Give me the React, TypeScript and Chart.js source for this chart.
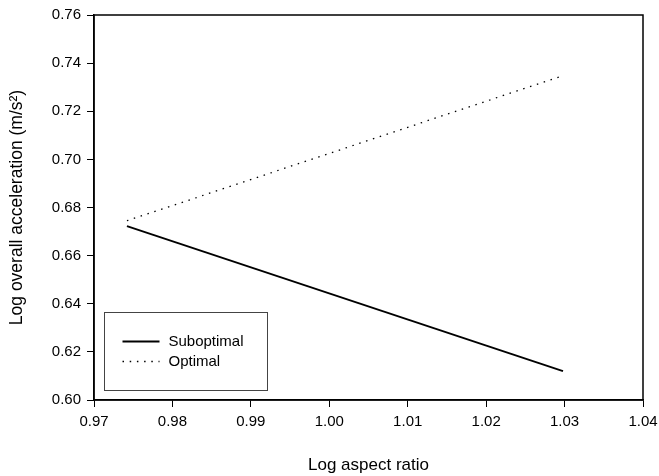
import React, { useEffect, useRef } from "react";
import { Chart, registerables } from "chart.js";

Chart.register(...registerables);

const seriesLabels = ["Suboptimal", "Optimal"];
const suboptimalX = [0.9742, 1.0298];
const suboptimalY = [0.6723, 0.612];
const optimalX = [0.9742, 1.0298];
const optimalY = [0.6745, 0.7348];
const xTitle = "Log aspect ratio";
const yTitle = "Log overall acceleration (m/s²)";
const xMin = 0.97, xMax = 1.04, xStep = 0.01;
const yMin = 0.6, yMax = 0.76, yStep = 0.02;

const FONT = "'Liberation Sans', Arial, sans-serif";

const framePlugin = {
  id: "frameAndLegend",
  afterDraw(chart: any) {
    const { ctx, chartArea: ca } = chart;
    ctx.save();
    ctx.strokeStyle = "#000";
    ctx.lineWidth = 1.5;
    ctx.strokeRect(ca.left, ca.top, ca.right - ca.left, ca.bottom - ca.top);
    // legend
    const bx = ca.left + 10.5;
    const by = ca.bottom - 87.5;
    const bw = 163;
    const bh = 78;
    ctx.lineWidth = 1;
    ctx.strokeStyle = "#444";
    ctx.fillStyle = "#fff";
    ctx.fillRect(bx, by, bw, bh);
    ctx.strokeRect(bx, by, bw, bh);
    chart.data.datasets.forEach((ds: any, i: number) => {
      const y = by + 29 + i * 20;
      ctx.beginPath();
      ctx.strokeStyle = ds.borderColor;
      ctx.lineWidth = ds.borderWidth;
      ctx.setLineDash(ds.borderDash || []);
      ctx.moveTo(bx + 18, y);
      ctx.lineTo(bx + 55, y);
      ctx.stroke();
      ctx.setLineDash([]);
      ctx.fillStyle = "#000";
      ctx.font = `15px ${FONT}`;
      ctx.textBaseline = "middle";
      ctx.textAlign = "left";
      ctx.fillText(ds.label, bx + 64, y);
    });
    ctx.restore();
  },
};

export default function App() {
  const ref = useRef<HTMLCanvasElement>(null);
  useEffect(() => {
    if (!ref.current) return;
    const tickFont = { family: FONT, size: 15 };
    const chart = new Chart(ref.current, {
      type: "scatter",
      data: {
        datasets: [
          {
            label: seriesLabels[0],
            data: suboptimalX.map((x, i) => ({ x, y: suboptimalY[i] })),
            showLine: true,
            borderColor: "#000",
            borderWidth: 1.8,
            pointRadius: 0,
            fill: false,
          },
          {
            label: seriesLabels[1],
            data: optimalX.map((x, i) => ({ x, y: optimalY[i] })),
            showLine: true,
            borderColor: "#000",
            borderWidth: 1.3,
            borderDash: [1.5, 5.7],
            pointRadius: 0,
            fill: false,
          },
        ],
      },
      options: {
        responsive: false,
        animation: false,
        layout: { padding: { top: 15, right: 16, bottom: 0, left: 0 } },
        plugins: { legend: { display: false }, tooltip: { enabled: false } },
        scales: {
          x: {
            type: "linear",
            min: xMin,
            max: xMax,
            afterFit: (s: any) => { s.height = 76; s.paddingRight = 0; s.paddingLeft = 0; },
            ticks: {
              stepSize: xStep,
              color: "#000",
              font: tickFont,
              padding: 6,
              maxRotation: 0,
              callback: (v: any) => Number(v).toFixed(2),
            },
            grid: { drawOnChartArea: false, drawTicks: true, tickLength: 7, color: "#000", lineWidth: 1 },
            border: { display: true, color: "#000", width: 1.5 },
            title: { display: true, text: xTitle, color: "#000", font: { family: FONT, size: 17 }, padding: { top: 0, bottom: 0 } },
          },
          y: {
            type: "linear",
            min: yMin,
            max: yMax,
            afterFit: (s: any) => { s.width = 94; s.paddingTop = 0; s.paddingBottom = 0; },
            ticks: {
              stepSize: yStep,
              color: "#000",
              font: tickFont,
              padding: 6,
              callback: (v: any) => Number(v).toFixed(2),
            },
            grid: { drawOnChartArea: false, drawTicks: true, tickLength: 7, color: "#000", lineWidth: 1 },
            border: { display: true, color: "#000", width: 1.5 },
            title: { display: true, text: yTitle, color: "#000", font: { family: FONT, size: 17.5 }, padding: { top: 6.5, bottom: 0 } },
          },
        },
      },
      plugins: [framePlugin],
    });
    return () => chart.destroy();
  }, []);
  return (
    <div style={{ position: "absolute", left: 0, top: 0, width: 659, height: 476, background: "#fff" }}>
      <canvas ref={ref} width={659} height={476} style={{ display: "block" }} />
    </div>
  );
}
